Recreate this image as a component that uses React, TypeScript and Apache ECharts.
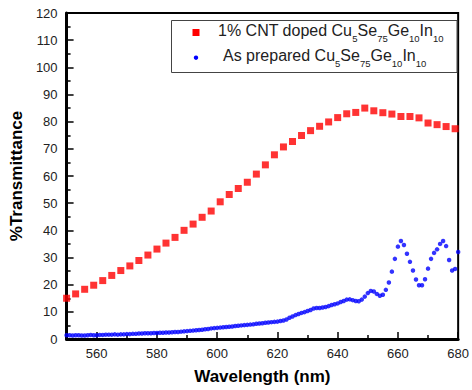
import React, { useEffect, useRef } from "react";
import * as echarts from "echarts";

// 1% CNT doped sample (red squares), sampled every 3 nm
const redWavelengths = [
  550, 553, 556, 559, 562, 565, 568, 571, 574, 577, 580, 583, 586, 589, 592,
  595, 598, 601, 604, 607, 610, 613, 616, 619, 622, 625, 628, 631, 634, 637,
  640, 643, 646, 649, 652, 655, 658, 661, 664, 667, 670, 673, 676, 679,
];
const redTransmittance = [
  15.0, 16.6, 18.3, 19.8, 21.5, 23.4, 25.2, 26.9, 28.9, 30.9, 33.1, 35.3, 37.4,
  40.0, 42.3, 44.8, 47.1, 50.5, 53.2, 55.4, 57.7, 60.7, 64.1, 67.8, 70.7, 72.7,
  74.9, 76.7, 78.3, 79.9, 81.5, 82.9, 83.4, 85.0, 84.0, 83.3, 82.8, 81.9, 81.9,
  81.4, 79.5, 78.9, 78.2, 77.4,
];

// As prepared sample (blue dots), sampled every 1 nm starting at 550 nm
const blueStartWavelength = 550;
const blueStepNm = 1;
const blueTransmittance = [
  // 550-559
  1.4, 1.4, 1.3, 1.4, 1.4, 1.3, 1.3, 1.4, 1.5, 1.4,
  // 560-569
  1.4, 1.5, 1.5, 1.6, 1.6, 1.6, 1.7, 1.6, 1.7, 1.7,
  // 570-579
  1.8, 1.8, 1.9, 1.9, 2.0, 2.0, 2.1, 2.1, 2.1, 2.2,
  // 580-589
  2.2, 2.3, 2.3, 2.4, 2.4, 2.5, 2.6, 2.6, 2.7, 2.8,
  // 590-599
  2.9, 3.0, 3.1, 3.2, 3.3, 3.4, 3.6, 3.7, 3.9, 4.0,
  // 600-609
  4.1, 4.2, 4.3, 4.4, 4.5, 4.6, 4.8, 4.9, 5.0, 5.1,
  // 610-619
  5.2, 5.3, 5.4, 5.6, 5.7, 5.8, 6.0, 6.1, 6.2, 6.3,
  // 620-629
  6.4, 6.6, 6.8, 7.2, 7.8, 8.3, 8.8, 9.2, 9.6, 9.9,
  // 630-639
  10.3, 10.7, 11.2, 11.4, 11.4, 11.6, 11.8, 12.1, 12.5, 12.8,
  // 640-649
  13.1, 13.6, 14.0, 14.5, 14.6, 14.3, 14.0, 13.9, 14.5, 15.6,
  // 650-659
  16.9, 17.7, 17.5, 16.6, 15.9, 16.3, 18.1, 20.8, 24.8, 29.5,
  // 660-669
  34.0, 36.1, 34.6, 31.4, 28.4, 25.2, 21.9, 19.8, 19.8, 22.0,
  // 670-679
  25.9, 29.5, 31.7, 33.0, 35.0, 36.1, 34.2, 29.1, 25.2, 25.8,
  // 680
  32.0,
];

const xMajorTicks = [560, 580, 600, 620, 640, 660, 680];
const xMinorTicks = [550, 570, 590, 610, 630, 650, 670];
const xMin = 550;
const xMax = 680;
const yMin = 0;
const yMax = 120;
const yInterval = 10;

const seriesNames = ["1% CNT doped", "As prepared"];
const FONT = "'Liberation Sans', Arial, Helvetica, sans-serif";

function legendRich(prefix: string) {
  return `{a|${prefix} Cu}{s|5}{a|Se}{s|75}{a|Ge}{s|10}{a|In}{s|10}`;
}

export default function App() {
  const ref = useRef<HTMLDivElement>(null);

  useEffect(() => {
    if (!ref.current) return;
    const chart = echarts.init(ref.current, null, { renderer: "svg" });

    const redData = redWavelengths.map((w, i) => [w, redTransmittance[i]]);
    const blueData = blueTransmittance.map((v, i) => [
      blueStartWavelength + i * blueStepNm,
      v,
    ]);

    const rich = {
      a: {
        fontSize: 16,
        fontFamily: FONT,
        fill: "#222",
        color: "#222",
        lineHeight: 20,
        verticalAlign: "top",
      },
      s: {
        fontSize: 9.5,
        fontFamily: FONT,
        fill: "#222",
        color: "#222",
        lineHeight: 9,
        padding: [11, 0, 0, 0],
        verticalAlign: "top",
      },
    };

    chart.setOption({
      animation: false,
      backgroundColor: "#ffffff",
      grid: {
        left: 62,
        right: 9,
        top: 13,
        bottom: 49,
        show: true,
        borderColor: "#000",
        borderWidth: 2,
        backgroundColor: "transparent",
      },
      xAxis: [
        {
          type: "value",
          min: xMin,
          max: xMax,
          position: "bottom",
          name: "Wavelength (nm)",
          nameLocation: "middle",
          nameGap: 29,
          nameTextStyle: {
            fontFamily: FONT,
            fontWeight: "bold",
            fontSize: 17,
            color: "#000",
          },
          axisLine: { show: true, lineStyle: { color: "#000", width: 3 } },
          axisTick: {
            show: true,
            inside: true,
            length: 7,
            lineStyle: { color: "#000", width: 1.5 },
            customValues: xMajorTicks,
          },
          axisLabel: {
            show: true,
            margin: 8,
            fontFamily: FONT,
            fontSize: 13,
            color: "#222",
            customValues: xMajorTicks,
          },
          splitLine: { show: false },
        },
        {
          type: "value",
          min: xMin,
          max: xMax,
          position: "bottom",
          axisLine: { show: false },
          axisTick: {
            show: true,
            inside: true,
            length: 4,
            lineStyle: { color: "#000", width: 1.5 },
            customValues: xMinorTicks,
          },
          axisLabel: { show: false },
          splitLine: { show: false },
        },
      ],
      yAxis: {
        type: "value",
        min: yMin,
        max: yMax,
        interval: yInterval,
        name: "%Transmittance",
        nameLocation: "middle",
        nameGap: 31,
        nameRotate: 90,
        nameTextStyle: {
          fontFamily: FONT,
          fontWeight: "bold",
          fontSize: 17,
          color: "#000",
        },
        axisLine: { show: true, lineStyle: { color: "#000", width: 3 } },
        axisTick: {
          show: true,
          inside: true,
          length: 7,
          lineStyle: { color: "#000", width: 1.5 },
        },
        minorTick: {
          show: true,
          splitNumber: 2,
          length: 4,
          lineStyle: { color: "#000", width: 1.5 },
        },
        axisLabel: {
          margin: 9,
          fontFamily: FONT,
          fontSize: 13,
          color: "#222",
        },
        splitLine: { show: false },
      },
      series: [
        {
          name: seriesNames[0],
          type: "scatter",
          xAxisIndex: 0,
          data: redData,
          symbol: "rect",
          symbolSize: 7,
          itemStyle: { color: "#ff0000" },
        },
        {
          name: seriesNames[1],
          type: "scatter",
          xAxisIndex: 0,
          data: blueData,
          symbol: "circle",
          symbolSize: 4.5,
          itemStyle: { color: "#0000ff" },
        },
      ],
      graphic: [
        {
          type: "rect",
          shape: { x: 171.5, y: 20.5, width: 285.5, height: 52 },
          style: { fill: "#fff", stroke: "#444", lineWidth: 1 },
          z: 100,
        },
        {
          type: "rect",
          shape: { x: 192.5, y: 29, width: 7, height: 7 },
          style: { fill: "#ff0000" },
          z: 101,
        },
        {
          type: "circle",
          shape: { cx: 196, cy: 57.7, r: 2.2 },
          style: { fill: "#0000ff" },
          z: 101,
        },
        {
          type: "text",
          x: 218,
          y: 22,
          style: {
            text: legendRich("1% CNT doped"),
            rich,
            align: "left",
            verticalAlign: "top",
          },
          z: 101,
        },
        {
          type: "text",
          x: 223,
          y: 47.5,
          style: {
            text: legendRich("As prepared"),
            rich,
            align: "left",
            verticalAlign: "top",
          },
          z: 101,
        },
      ],
    });

    return () => chart.dispose();
  }, []);

  return (
    <div
      ref={ref}
      style={{ position: "absolute", left: 0, top: 0, width: 472, height: 390 }}
    />
  );
}
